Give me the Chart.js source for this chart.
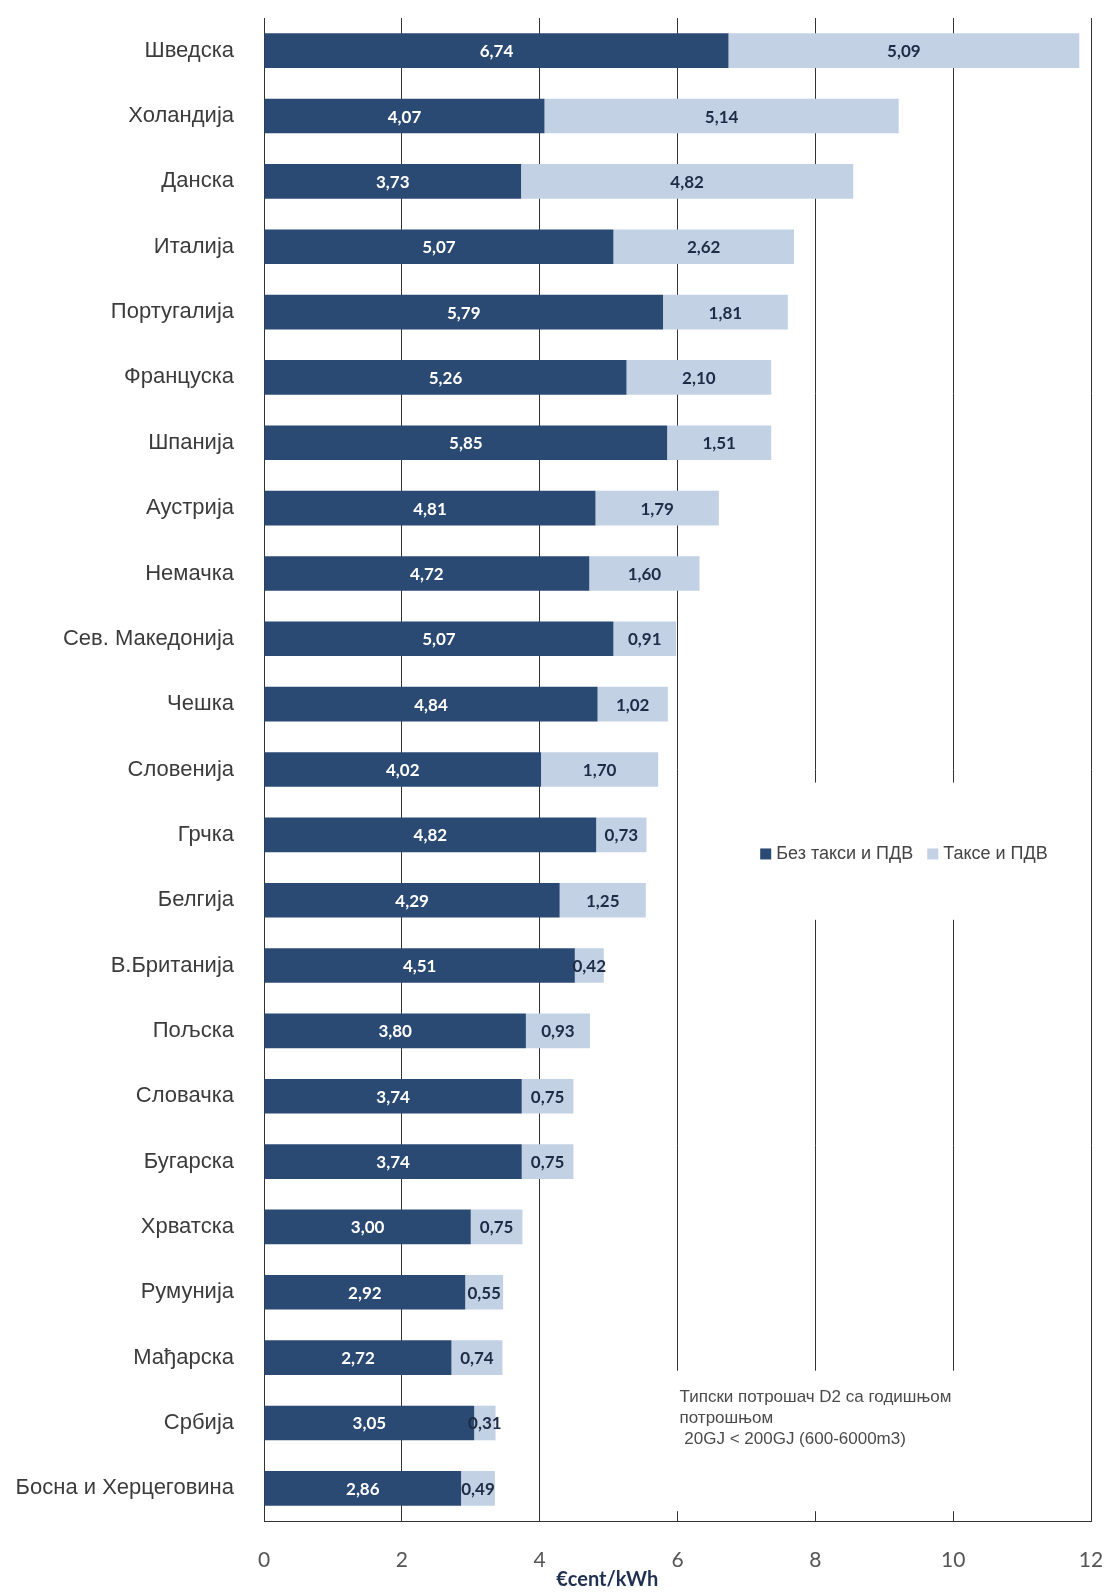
<!DOCTYPE html>
<html>
<head>
<meta charset="utf-8">
<script src="https://cdn.jsdelivr.net/npm/chart.js@4.4.1/dist/chart.umd.min.js"></script>
<style>
  html, body { margin: 0; padding: 0; background: #fff; }
  #wrap { width: 1105px; height: 1596px; position: relative; }
</style>
</head>
<body>
<div id="wrap"><canvas id="chart"></canvas></div>
<script>
// ---- data ----
const countries = [
  "Шведска", "Холандија", "Данска", "Италија", "Португалија", "Француска",
  "Шпанија", "Аустрија", "Немачка", "Сев. Македонија", "Чешка", "Словенија",
  "Грчка", "Белгија", "В.Британија", "Пољска", "Словачка", "Бугарска",
  "Хрватска", "Румунија", "Мађарска", "Србија", "Босна и Херцеговина"
];
const withoutTax = [
  6.74, 4.07, 3.73, 5.07, 5.79, 5.26, 5.85, 4.81, 4.72, 5.07, 4.84, 4.02,
  4.82, 4.29, 4.51, 3.80, 3.74, 3.74, 3.00, 2.92, 2.72, 3.05, 2.86
];
const taxes = [
  5.09, 5.14, 4.82, 2.62, 1.81, 2.10, 1.51, 1.79, 1.60, 0.91, 1.02, 1.70,
  0.73, 1.25, 0.42, 0.93, 0.75, 0.75, 0.75, 0.55, 0.74, 0.31, 0.49
];
const seriesNames = ["Без такси и ПДВ", "Таксе и ПДВ"];
const xTicks = [0, 2, 4, 6, 8, 10, 12];
const axisTitle = "€cent/kWh";
const noteLines = [
  "Типски потрошач D2 са годишњом",
  "потрошњом",
  " 20GJ < 200GJ (600-6000m3)"
];

const DARK = "#2b4a73";
const LIGHT = "#c3d1e5";

// value labels inside the segments
const barLabels = {
  id: "barLabels",
  afterDatasetsDraw(chart) {
    const c = chart.ctx;
    c.save();
    c.font = "bold 17px Lato, 'Open Sans', sans-serif";
    c.textAlign = "center";
    c.textBaseline = "middle";
    chart.data.datasets.forEach((ds, di) => {
      chart.getDatasetMeta(di).data.forEach((bar, i) => {
        const v = ds.data[i];
        const cx = (bar.x + bar.base) / 2;
        c.fillStyle = di === 0 ? "#ffffff" : "#1e2b45";
        c.fillText(v.toFixed(2).replace(".", ","), cx, bar.y + 1);
      });
    });
    c.restore();
  }
};

// legend box, note text and axis title
const extras = {
  id: "extras",
  afterDatasetsDraw(chart) {
    const c = chart.ctx;
    const x = chart.scales.x, y = chart.scales.y;
    c.save();

    // legend (white box breaks the grid lines)
    const ly0 = y.getPixelForValue(11.2), ly1 = y.getPixelForValue(13.3);
    c.fillStyle = "#fff";
    c.fillRect(x.getPixelForValue(6.35), ly0, x.getPixelForValue(11.75) - x.getPixelForValue(6.35), ly1 - ly0);
    const ly = y.getPixelForValue(12.3);
    let lx = x.getPixelForValue(7.2);
    c.font = "18px 'Liberation Sans', Arial, sans-serif";
    c.textBaseline = "middle";
    c.textAlign = "left";
    chart.data.datasets.forEach((ds, di) => {
      c.fillStyle = ds.backgroundColor;
      c.fillRect(lx, ly - 6, 11, 11);
      c.fillStyle = "#444";
      c.fillText(ds.label, lx + 16, ly);
      lx += 16 + c.measureText(ds.label).width + 14;
    });

    // note
    const ny0 = y.getPixelForValue(20.2), ny1 = y.getPixelForValue(22.35);
    c.fillStyle = "#fff";
    c.fillRect(x.getPixelForValue(5.8), ny0, x.getPixelForValue(10.95) - x.getPixelForValue(5.8), ny1 - ny0);
    c.fillStyle = "#4a4a4a";
    c.font = "17px 'Liberation Sans', Arial, sans-serif";
    const nx = x.getPixelForValue(6.03);
    noteLines.forEach((t, i) => {
      c.fillText(t, nx, y.getPixelForValue(20.6) + i * 21);
    });

    // axis title
    c.fillStyle = "#1f3050";
    c.font = "bold 20px Lato, 'Open Sans', sans-serif";
    c.textAlign = "center";
    c.fillText(axisTitle, x.getPixelForValue(4.98), chart.height - 16);
    c.restore();
  }
};

new Chart(document.getElementById("chart"), {
  type: "bar",
  data: {
    labels: countries,
    datasets: [
      { label: seriesNames[0], data: withoutTax, backgroundColor: DARK },
      { label: seriesNames[1], data: taxes, backgroundColor: LIGHT }
    ]
  },
  options: {
    indexAxis: "y",
    responsive: true,
    maintainAspectRatio: false,
    animation: false,
    layout: { padding: { top: 18, right: 14, left: 0, bottom: 0 } },
    datasets: { bar: { barPercentage: 0.53, categoryPercentage: 1.0 } },
    plugins: {
      legend: { display: false },
      tooltip: { enabled: false }
    },
    scales: {
      x: {
        stacked: true,
        min: 0,
        max: 12,
        afterBuildTicks(s) { s.ticks = xTicks.map(v => ({ value: v })); },
        afterFit(s) { s.height = 75; s.paddingLeft = 0; s.paddingRight = 0; },
        grid: { color: "#333", lineWidth: 1, tickLength: 0, drawTicks: false },
        border: { display: true, color: "#333", width: 1 },
        ticks: {
          padding: 27,
          color: "#555",
          maxRotation: 0,
          font: { family: "Lato, 'Open Sans', sans-serif", size: 21 },
          callback: v => v
        }
      },
      y: {
        stacked: true,
        afterFit(s) { s.width = 264; s.paddingTop = 0; s.paddingBottom = 0; },
        grid: { display: false },
        border: { display: true, color: "#333", width: 1 },
        ticks: {
          padding: 22,
          color: "#3b3b3b",
          font: { family: "'Liberation Sans', Arial, sans-serif", size: 22 }
        }
      }
    }
  },
  plugins: [barLabels, extras]
});
</script>
</body>
</html>
